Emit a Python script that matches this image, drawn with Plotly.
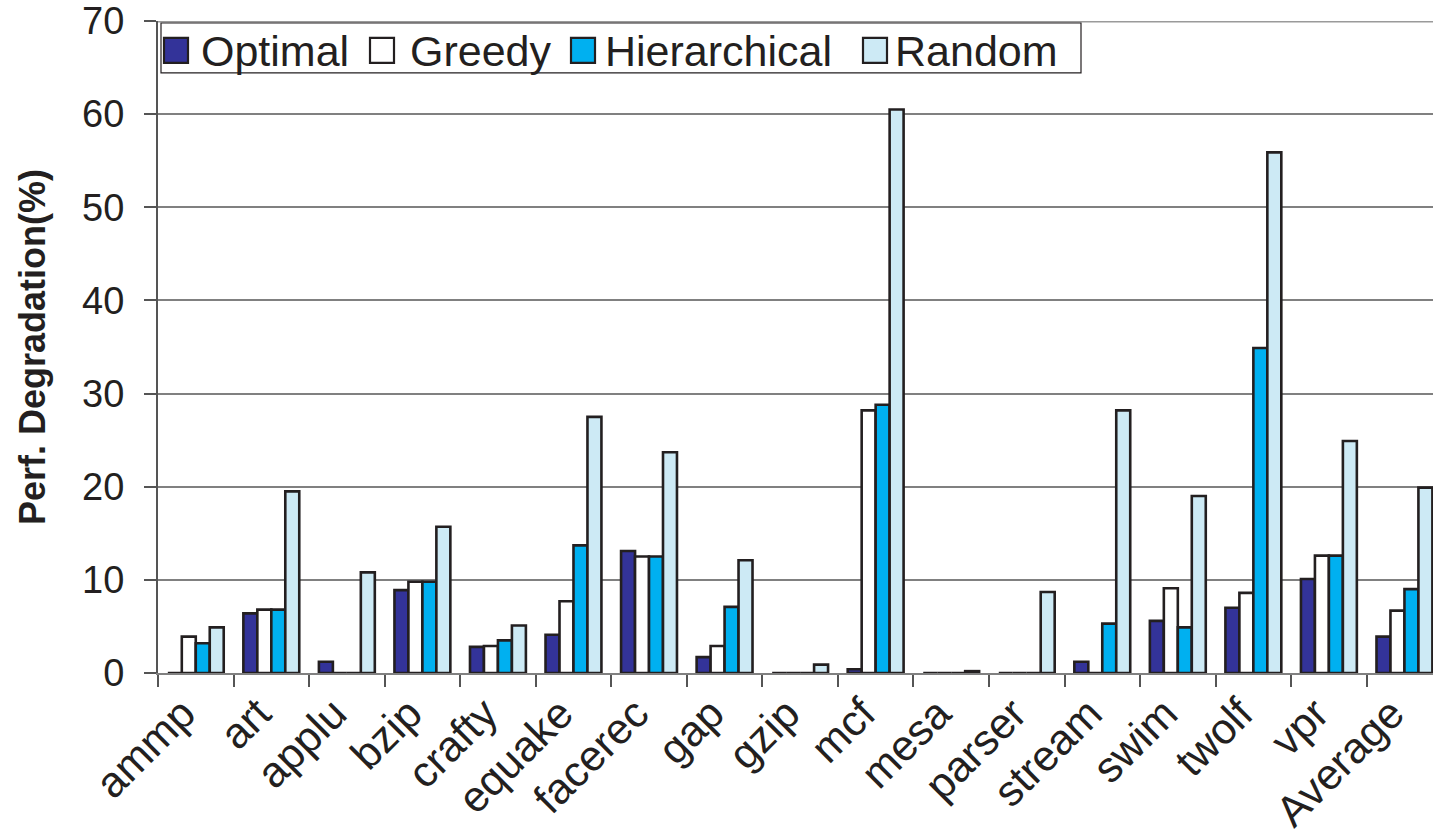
import plotly.graph_objects as go

benchmarks = ["ammp", "art", "applu", "bzip", "crafty", "equake", "facerec", "gap",
              "gzip", "mcf", "mesa", "parser", "stream", "swim", "twolf", "vpr", "Average"]

optimal = [0, 6.4, 1.2, 8.9, 2.8, 4.1, 13.1, 1.7, 0, 0.4, 0, 0, 1.2, 5.6, 7.0, 10.1, 3.9]
greedy = [3.9, 6.8, 0, 9.8, 2.9, 7.7, 12.5, 2.9, 0, 28.2, 0, 0, 0, 9.1, 8.6, 12.6, 6.7]
hierarchical = [3.2, 6.8, 0, 9.8, 3.5, 13.7, 12.5, 7.1, 0, 28.8, 0, 0, 5.3, 4.9, 34.9, 12.6, 9.0]
random_map = [4.9, 19.5, 10.8, 15.7, 5.1, 27.5, 23.7, 12.1, 0.9, 60.5, 0.2, 8.7, 28.2, 19.0, 55.9, 24.9, 19.9]

y_ticks = [0, 10, 20, 30, 40, 50, 60, 70]

series_names = ["Optimal", "Greedy", "Hierarchical", "Random"]
series_values = [optimal, greedy, hierarchical, random_map]
series_colors = ["#333399", "#ffffff", "#00b0f0", "#cdeaf5"]

FONT = "Liberation Sans, Arial, sans-serif"
INK = "#231f20"

W, H = 1433, 835
M_L, M_R, M_T, M_B = 158, 0, 20, 161
PLOT_W = W - M_L - M_R
PLOT_H = H - M_T - M_B


def px_to_paper(px, py):
    """Convert page pixel coordinates to paper coordinates of the plot area."""
    return (px - M_L) / PLOT_W, (H - M_B - py) / PLOT_H


fig = go.Figure()
for name, vals, color in zip(series_names, series_values, series_colors):
    fig.add_trace(go.Bar(
        x=benchmarks, y=vals, name=name, showlegend=False,
        marker=dict(color=color, line=dict(color=INK, width=2.6)),
    ))

fig.update_layout(
    width=W, height=H,
    margin=dict(l=M_L, r=M_R, t=M_T, b=M_B),
    paper_bgcolor="white", plot_bgcolor="white",
    barmode="group", bargap=0.26, bargroupgap=0,
    font=dict(family=FONT, color=INK),
    showlegend=False,
)

fig.update_xaxes(
    type="category",
    range=[-0.5, 16.378],
    tickson="boundaries",
    ticks="outside", ticklen=12, tickwidth=2, tickcolor="#555555",
    showline=True, linecolor="#808080", linewidth=2,
    showgrid=False,
    tickangle=-45,
    ticklabelshift=-13,
    ticklabelstandoff=-4,
    tickfont=dict(size=43, family=FONT, color=INK),
)

fig.update_yaxes(
    range=[0, 70],
    tickvals=y_ticks,
    ticks="outside", ticklen=12, tickwidth=2, tickcolor="#555555",
    showline=True, linecolor="#555555", linewidth=2,
    showgrid=True, gridcolor="#808080", gridwidth=1.5,
    zeroline=False,
    ticklabeloverflow="allow",
    tickfont=dict(size=38, family=FONT, color=INK),
    ticklabelstandoff=12,
    title=dict(text="<b>Perf. Degradation(%)</b>",
               font=dict(size=36, family=FONT, color=INK), standoff=26),
)

# heavier frame line along the top of the plotting area
fig.add_shape(type="line", xref="paper", yref="y", x0=0, x1=1, y0=70, y1=70,
              line=dict(color="#9a9a9a", width=3), layer="above")

# legend box with large swatches
bx0, by0 = px_to_paper(161, 72)
bx1, by1 = px_to_paper(1081, 22)
fig.add_shape(type="rect", xref="paper", yref="paper", x0=bx0, y0=by0, x1=bx1, y1=by1,
              line=dict(color=INK, width=1.2), fillcolor="white", layer="above")

swatch_left = [164, 370, 571, 863]
text_left = [199, 408, 603, 893]
for name, color, sx, tx in zip(series_names, series_colors, swatch_left, text_left):
    sx0, sy0 = px_to_paper(sx, 62)
    sx1, sy1 = px_to_paper(sx + 24, 37)
    fig.add_shape(type="rect", xref="paper", yref="paper", x0=sx0, y0=sy0, x1=sx1, y1=sy1,
                  line=dict(color=INK, width=2.2), fillcolor=color, layer="above")
    ax, ay = px_to_paper(tx, 50)
    fig.add_annotation(xref="paper", yref="paper", x=ax, y=ay, text=name,
                       xanchor="left", yanchor="middle", showarrow=False,
                       font=dict(size=43, family=FONT, color=INK))

fig.write_html("out.html")
